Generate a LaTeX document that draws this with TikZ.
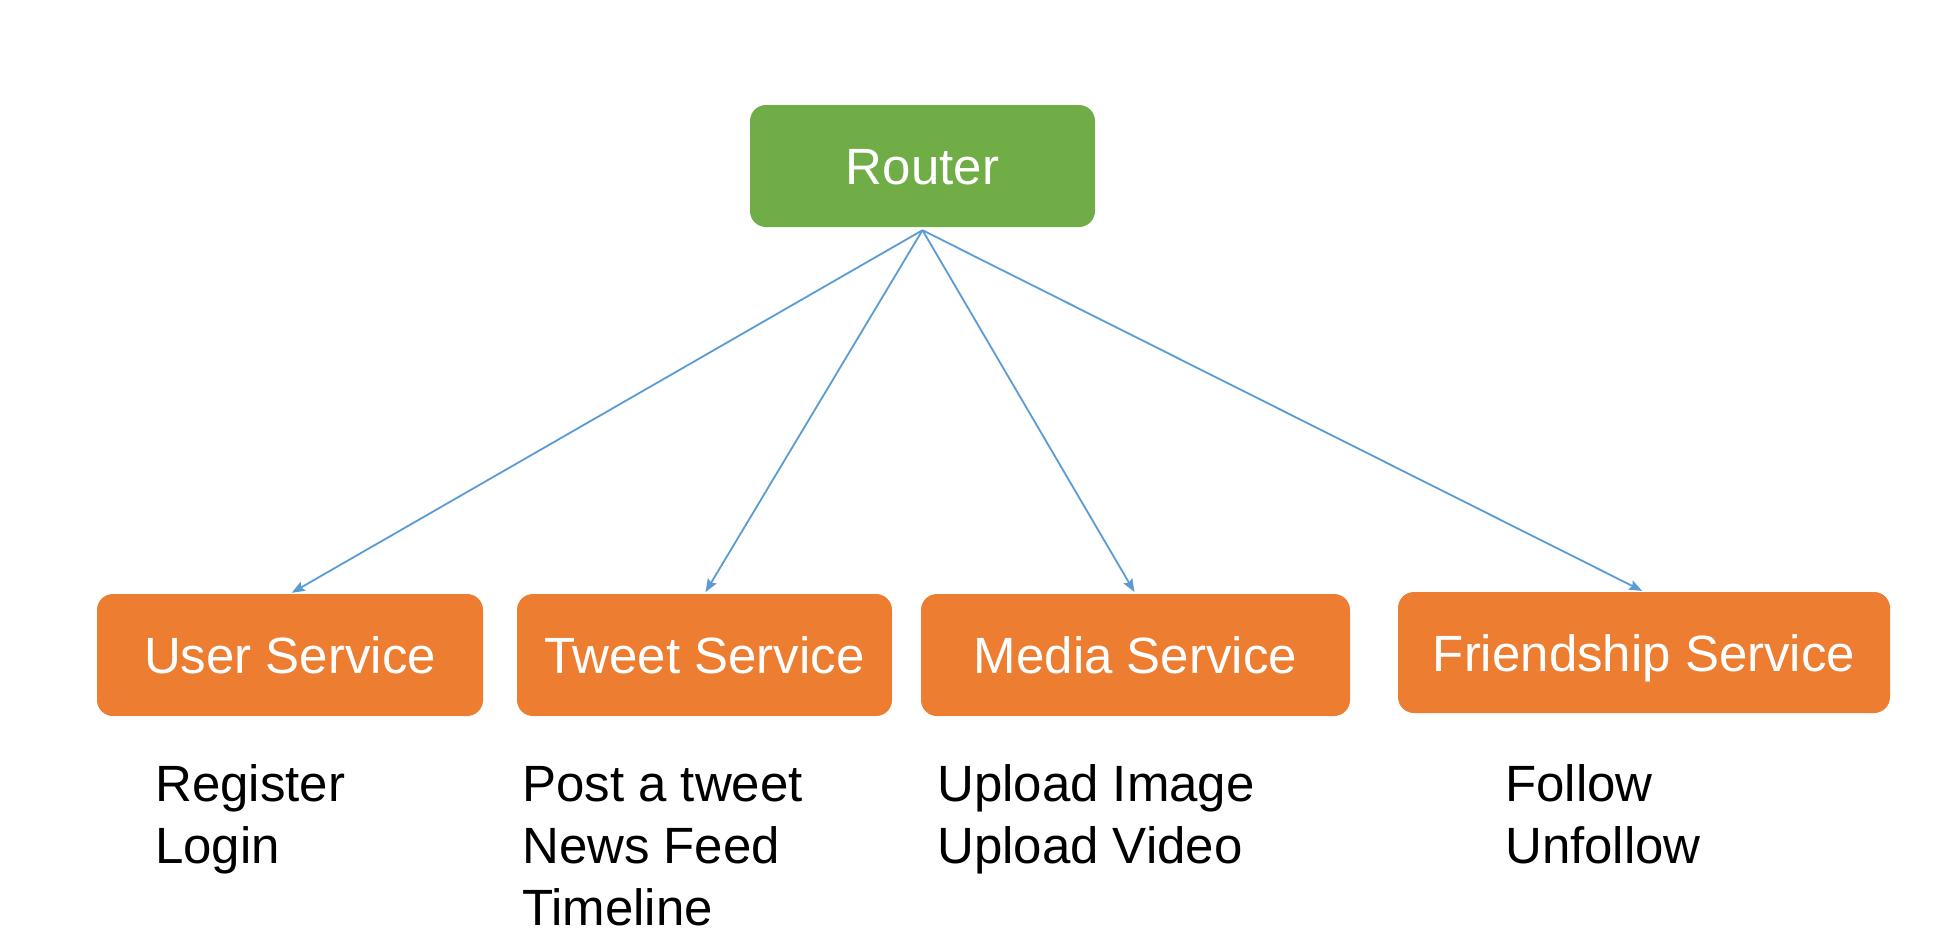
\documentclass[tikz,border=0pt]{standalone}
\usepackage{fontspec}
\setmainfont{Liberation Sans}
\usetikzlibrary{arrows.meta}
\definecolor{routergreen}{HTML}{70AD47}
\definecolor{svcorange}{HTML}{ED7D31}
\definecolor{arrowblue}{HTML}{5B9BD5}
\begin{document}
\begin{tikzpicture}[x=1pt,y=-1pt,
  box/.style={rounded corners=16pt, text=white, inner sep=0pt,
    font=\fontsize{51}{62}\selectfont, text height=37pt, text depth=0pt,
    minimum height=122pt},
  routerbox/.style={box, fill=routergreen},
  svcbox/.style={box, fill=svcorange},
  conn/.style={draw=arrowblue, line width=1.8pt, shorten >=2pt,
    -{Stealth[length=13pt,width=10pt,inset=2pt]}},
  item/.style={anchor=base west, inner sep=0pt, font=\fontsize{51}{62}\selectfont}]
\useasboundingbox (0,0) rectangle (1946,938);
\node[routerbox, minimum width=345pt] (router) at (922.5,166) {Router};
\node[svcbox, minimum width=386pt] (user) at (290,655) {User Service};
\node[svcbox, minimum width=375pt] (tweet) at (704.5,655) {Tweet Service};
\node[svcbox, minimum width=429pt] (media) at (1135.5,655) {Media Service};
\node[svcbox, minimum width=492pt, minimum height=121pt] (friend) at (1644,652.5) {Friendship Service};
\coordinate (rb) at ([yshift=-3pt]router.south);
\draw[conn] (rb) -- (user.north);
\draw[conn] (rb) -- (tweet.north);
\draw[conn] (rb) -- (media.north);
\draw[conn] (rb) -- (friend.north);
\node[item] (reg) at (155,801) {Register};
\node[item] (login) at (155,863) {Login};
\node[item] (post) at (522,801) {Post a tweet};
\node[item] (feed) at (522,863) {News Feed};
\node[item] (timeline) at (522,925) {Timeline};
\node[item] (upimg) at (937,801) {Upload Image};
\node[item] (upvid) at (937,863) {Upload Video};
\node[item] (follow) at (1505,801) {Follow};
\node[item] (unfollow) at (1505,863) {Unfollow};
\end{tikzpicture}
\end{document}
